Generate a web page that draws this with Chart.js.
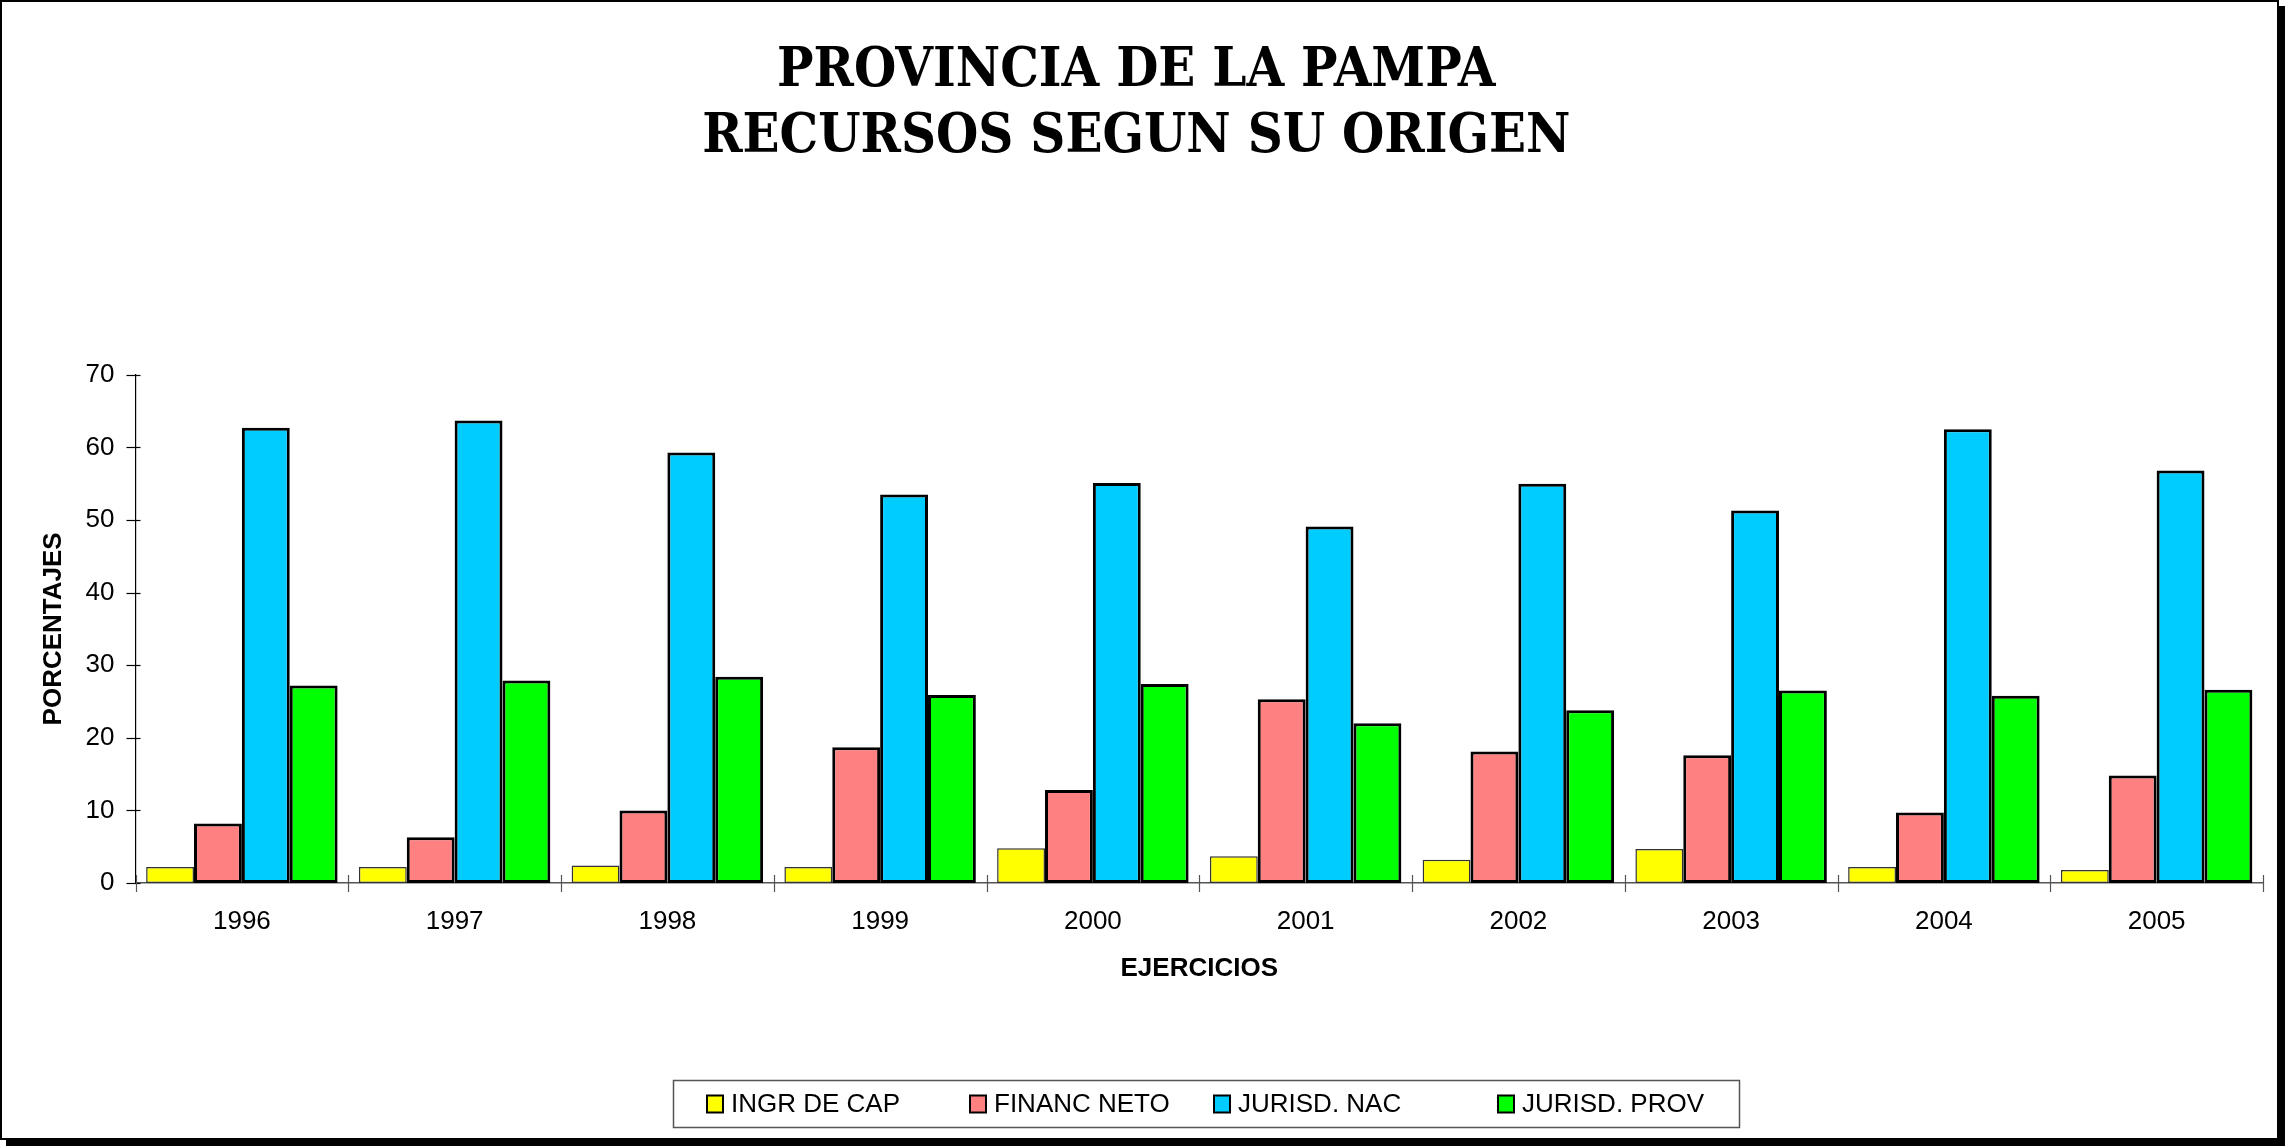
<!DOCTYPE html>
<html>
<head>
<meta charset="utf-8">
<script src="https://cdn.jsdelivr.net/npm/chart.js@4"></script>
<style>
  html, body { margin: 0; padding: 0; background: #fff; }
  #wrap { width: 2285px; height: 1146px; position: relative; }
</style>
</head>
<body>
<div id="wrap"><canvas id="c" width="2285" height="1146"></canvas></div>
<script>
const categories = ['1996', '1997', '1998', '1999', '2000', '2001', '2002', '2003', '2004', '2005'];
const seriesNames = ['INGR DE CAP', 'FINANC NETO', 'JURISD. NAC', 'JURISD. PROV'];
const ingrCap    = [2.2, 2.2, 2.4, 2.2, 4.8, 3.7, 3.2, 4.7, 2.2, 1.8];
const financNeto = [8.2, 6.3, 10.0, 18.7, 12.8, 25.3, 18.1, 17.6, 9.7, 14.8];
const jurisdNac  = [62.7, 63.7, 59.3, 53.5, 55.1, 49.1, 55.0, 51.3, 62.5, 56.8];
const jurisdProv = [27.2, 27.9, 28.4, 25.9, 27.4, 22.0, 23.8, 26.5, 25.8, 26.6];
const yTicks = [0, 10, 20, 30, 40, 50, 60, 70];
const titleLines = ['PROVINCIA DE LA PAMPA', 'RECURSOS SEGUN SU ORIGEN'];
const yAxisTitle = 'PORCENTAJES';
const xAxisTitle = 'EJERCICIOS';

const fills = ['#FFFF00', '#FF8080', '#00CCFF', '#00FF00'];
const borders = ['#333333', '#000000', '#000000', '#000000'];
const borderWidths = [1.5, 3, 3, 3];
const values = [ingrCap, financNeto, jurisdNac, jurisdProv];

const SANS = "'Liberation Sans', Arial, sans-serif";

const framePlugin = {
  id: 'frame',
  beforeDraw(chart) {
    const ctx = chart.ctx;
    ctx.save();
    ctx.fillStyle = '#fff';
    ctx.fillRect(0, 0, chart.width, chart.height);
    ctx.restore();
  },
  afterDraw(chart) {
    const ctx = chart.ctx;
    const W = chart.width, H = chart.height;
    ctx.save();
    ctx.strokeStyle = '#000';
    ctx.lineWidth = 2;
    ctx.strokeRect(1, 1, W - 8, H - 8);
    ctx.fillStyle = '#000';
    ctx.fillRect(W - 7, 6, 7, H - 6);
    ctx.fillRect(6, H - 7, W - 6, 7);
    ctx.restore();
  }
};

const ticksPlugin = {
  id: 'crossTicks',
  afterDraw(chart) {
    const ctx = chart.ctx;
    const x = chart.scales.x, y = chart.scales.y;
    ctx.save();
    ctx.lineWidth = 1.2;
    ctx.strokeStyle = '#000';
    y.ticks.forEach(t => {
      const py = Math.round(y.getPixelForValue(t.value)) + 0.5;
      ctx.beginPath();
      ctx.moveTo(y.right - 9, py);
      ctx.lineTo(y.right + 5, py);
      ctx.stroke();
    });
    ctx.strokeStyle = '#555';
    const step = x.getPixelForValue(1) - x.getPixelForValue(0);
    for (let i = 0; i <= categories.length; i++) {
      const px = Math.round(x.getPixelForValue(i) - step / 2) + 0.5;
      ctx.beginPath();
      ctx.moveTo(px, x.top - 8);
      ctx.lineTo(px, x.top + 9);
      ctx.stroke();
    }
    ctx.restore();
  }
};

const legendPlugin = {
  id: 'boxLegend',
  afterDraw(chart) {
    const ctx = chart.ctx;
    const box = { l: 673, t: 1080, r: 1739, b: 1127 };
    const itemX = [707, 970, 1214, 1498];
    ctx.save();
    ctx.fillStyle = '#fff';
    ctx.fillRect(box.l, box.t, box.r - box.l, box.b - box.t);
    ctx.strokeStyle = '#555';
    ctx.lineWidth = 1.5;
    ctx.strokeRect(box.l + 0.5, box.t + 0.5, box.r - box.l, box.b - box.t);
    const cy = (box.t + box.b) / 2;
    chart.data.datasets.forEach((ds, i) => {
      const sx = itemX[i];
      ctx.fillStyle = ds.backgroundColor;
      ctx.fillRect(sx, cy - 8, 16, 17);
      ctx.strokeStyle = '#000';
      ctx.lineWidth = 2;
      ctx.strokeRect(sx, cy - 8, 16, 17);
      ctx.fillStyle = '#000';
      ctx.font = "26px " + SANS;
      ctx.textBaseline = 'middle';
      ctx.textAlign = 'left';
      ctx.fillText(ds.label, sx + 24, cy + 1);
    });
    ctx.restore();
  }
};

const chart = new Chart(document.getElementById('c'), {
  type: 'bar',
  data: {
    labels: categories,
    datasets: seriesNames.map((name, i) => ({
      label: name,
      data: values[i],
      backgroundColor: fills[i],
      borderColor: borders[i],
      borderWidth: borderWidths[i],
      borderSkipped: false,
      categoryPercentage: 0.9,
      barPercentage: 1.0
    }))
  },
  options: {
    responsive: false,
    animation: false,
    devicePixelRatio: 1,
    layout: { padding: { left: 9.5, right: 22, top: 0, bottom: 153 } },
    plugins: {
      legend: { display: false },
      tooltip: { enabled: false },
      title: {
        display: true,
        text: titleLines,
        color: '#000',
        font: { family: "'DejaVu Serif Condensed', 'DejaVu Serif', serif", size: 54, weight: 'bold', lineHeight: 1.22 },
        padding: { top: 39, bottom: 204 }
      }
    },
    scales: {
      x: {
        grid: { display: false, drawTicks: false },
        border: { display: true, color: '#555', width: 1.5 },
        ticks: { color: '#000', font: { family: SANS, size: 26 }, padding: 23, maxRotation: 0 },
        title: { display: true, text: xAxisTitle, color: '#000', font: { family: SANS, size: 26, weight: 'bold' }, padding: { top: 0, bottom: 9 } },
        afterFit(s) { s.height = 110; }
      },
      y: {
        min: 0, max: 70,
        grid: { display: false, drawTicks: false },
        border: { display: true, color: '#000', width: 1.2 },
        ticks: {
          color: '#000', font: { family: SANS, size: 26 }, padding: 21,
          stepSize: 10,
          callback: (v) => yTicks.includes(v) ? String(v) : ''
        },
        title: { display: true, text: yAxisTitle, color: '#000', font: { family: SANS, size: 26, weight: 'bold' }, padding: { top: 29, bottom: 0 } },
        afterFit(s) { s.width = 126; }
      }
    }
  },
  plugins: [framePlugin, ticksPlugin, legendPlugin]
});
</script>
</body>
</html>
